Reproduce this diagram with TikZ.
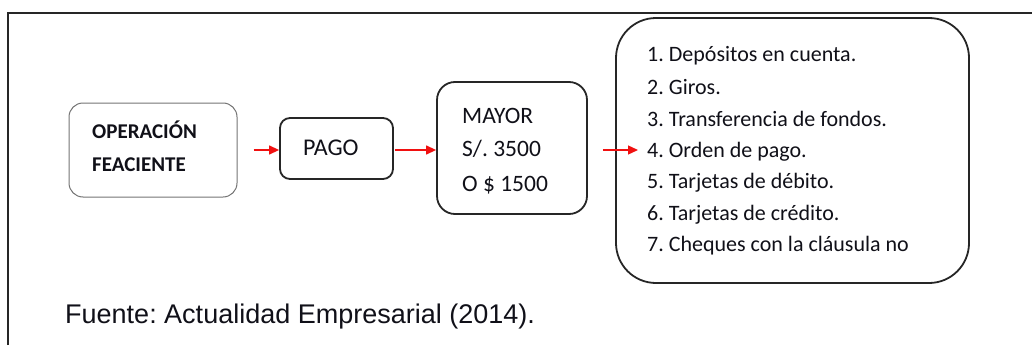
\documentclass[tikz,border=0pt]{standalone}
\usepackage{fontspec}
\setmainfont{Carlito}
\newfontfamily\arialf{Liberation Sans}
\usetikzlibrary{arrows.meta}
\definecolor{txt}{HTML}{101018}
\definecolor{arr}{HTML}{F01010}
\frenchspacing
\tikzset{
  box/.style={draw=black!85, line width=1.8pt, rounded corners=#1, inner sep=0pt},
  lbl/.style={anchor=base west, inner sep=0pt, text=txt},
  conn/.style={draw=arr, line width=1.3pt, -{Triangle[length=10pt,width=9pt]}, color=arr},
}
\begin{document}
\begin{tikzpicture}[x=1pt,y=-1pt]
\useasboundingbox (0,0) rectangle (1032,345);
% frame
\draw[line width=1.6pt, black!85] (8,345) -- (8,13) -- (1032,13);
% boxes
\node[box=14pt, draw=black!55, line width=1pt, minimum width=168pt, minimum height=94pt] (b1) at (153,150) {};
\node[box=10pt, minimum width=113pt, minimum height=61pt] (b2) at (336.5,148.5) {};
\node[box=18pt, minimum width=150pt, minimum height=132pt] (b3) at (512,148) {};
\node[box=40pt, minimum width=353pt, minimum height=265pt] (b4) at (792.5,150.5) {};
% texts
\node[lbl, font=\fontsize{21}{21}\selectfont\bfseries] (t1) at (92,138) {OPERACIÓN};
\node[lbl, font=\fontsize{21}{21}\selectfont\bfseries] (t2) at (92,171) {FEACIENTE};
\node[lbl, font=\fontsize{24}{24}\selectfont] (t3) at (303,155) {PAGO};
\node[lbl, font=\fontsize{23.5}{24}\selectfont] (t4) at (462,123) {MAYOR};
\node[lbl, font=\fontsize{23.5}{24}\selectfont] (t5) at (462,156) {S/. 3500};
\node[lbl, font=\fontsize{23.5}{24}\selectfont] (t6) at (462,191) {O \$ 1500};
\foreach \i/\y/\t in {1/62/{1. Depósitos en cuenta.},2/94/{2. Giros.},3/126/{3. Transferencia de fondos.},4/157/{4. Orden de pago.},5/188/{5. Tarjetas de débito.},6/220/{6. Tarjetas de crédito.},7/251/{7. Cheques con la cláusula no}}
  \node[lbl, font=\fontsize{22}{22}\selectfont] (l\i) at (647,\y) {\t};
\node[lbl, font=\arialf\fontsize{27}{28}\selectfont] (src) at (65,323) {Fuente: Actualidad Empresarial (2014).};
% connectors
\draw[conn, shorten <=16pt] (b1.east) -- (b2.west |- b1.east);
\draw[conn, shorten <=1pt] (b2.east |- b1.east) -- (b3.west |- b1.east);
\coordinate (a3) at (638,150);
\draw[conn, shorten <=15pt] (b3.east |- a3) -- (a3);
\end{tikzpicture}
\end{document}
